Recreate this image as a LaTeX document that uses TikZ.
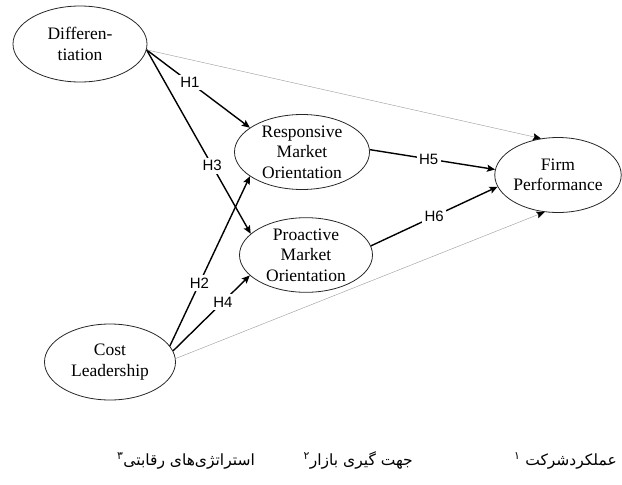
\documentclass[tikz,border=0pt]{standalone}
\usepackage{fontspec}
\setmainfont{Liberation Serif}
\newfontfamily\hfont{Liberation Sans}
\newfontfamily\fafont[Script=Arabic]{DejaVu Sans}
\TeXXeTstate=1
\usetikzlibrary{shapes.geometric,arrows.meta}

\begin{document}
\begin{tikzpicture}[x=1pt,y=-1pt,
		construct/.style={ellipse,draw=black!85,line width=0.8pt,inner sep=0pt,align=center,font=\fontsize{17.5}{20.5}\selectfont},
		hyp/.style={-{Stealth[length=8pt,width=7pt,inset=1.5pt]},line width=1.4pt},
		weak/.style={-{Stealth[black,length=8pt,width=7pt,inset=1.5pt]},line width=0.4pt,gray!80},
		hlabel/.style={fill=white,inner sep=2.5pt,font=\hfont\fontsize{15}{15}\selectfont},
		persian/.style={anchor=base east,inner sep=0pt,font=\fafont\fontsize{15.5}{18}\selectfont}]
		\useasboundingbox (0,0) rectangle (622,485);
		\node[construct,minimum width=134,minimum height=76](diff) at (80,44) {Differen-\\tiation};
		\node[construct,minimum width=135,minimum height=75](resp) at (302,152) {Responsive\\Market\\Orientation};
		\node[construct,minimum width=133,minimum height=67](proa) at (306,255) {Proactive\\Market\\Orientation};
		\node[construct,minimum width=126,minimum height=75](firm) at (558,175) {Firm\\Performance};
		\node[construct,minimum width=131,minimum height=76](cost) at (110,362) {Cost\\Leadership};
		\draw[hyp] (diff.-5) -- node[hlabel,pos=0.42]{H1} (resp.155);
		\draw[hyp] (diff.-5) -- node[hlabel,pos=0.63]{H3} (proa.159);
		\draw[hyp] (cost.15) -- node[hlabel,pos=0.37]{H2} (resp.205);
		\draw[hyp] (cost.10) -- node[hlabel,pos=0.65]{H4} (proa.200);
		\draw[hyp] (resp.2) -- node[hlabel,pos=0.47]{H5} (firm.175);
		\draw[hyp] (proa.8) -- node[hlabel,pos=0.5]{H6} (firm.191);
		\draw[weak] (diff.-5) -- (firm.115);
		\draw[weak] (cost.3) -- (firm.250);
		\node[persian](fa1) at (617,465) {\beginR عملکردشرکت \textsuperscript{۱}\endR};
		\node[persian](fa2) at (413,465) {\beginR جهت گیری بازار\textsuperscript{۲}\endR};
		\node[persian](fa3) at (255,465) {\beginR استراتژی‌های رقابتی\textsuperscript{۳}\endR};
	\end{tikzpicture}
\end{document}
